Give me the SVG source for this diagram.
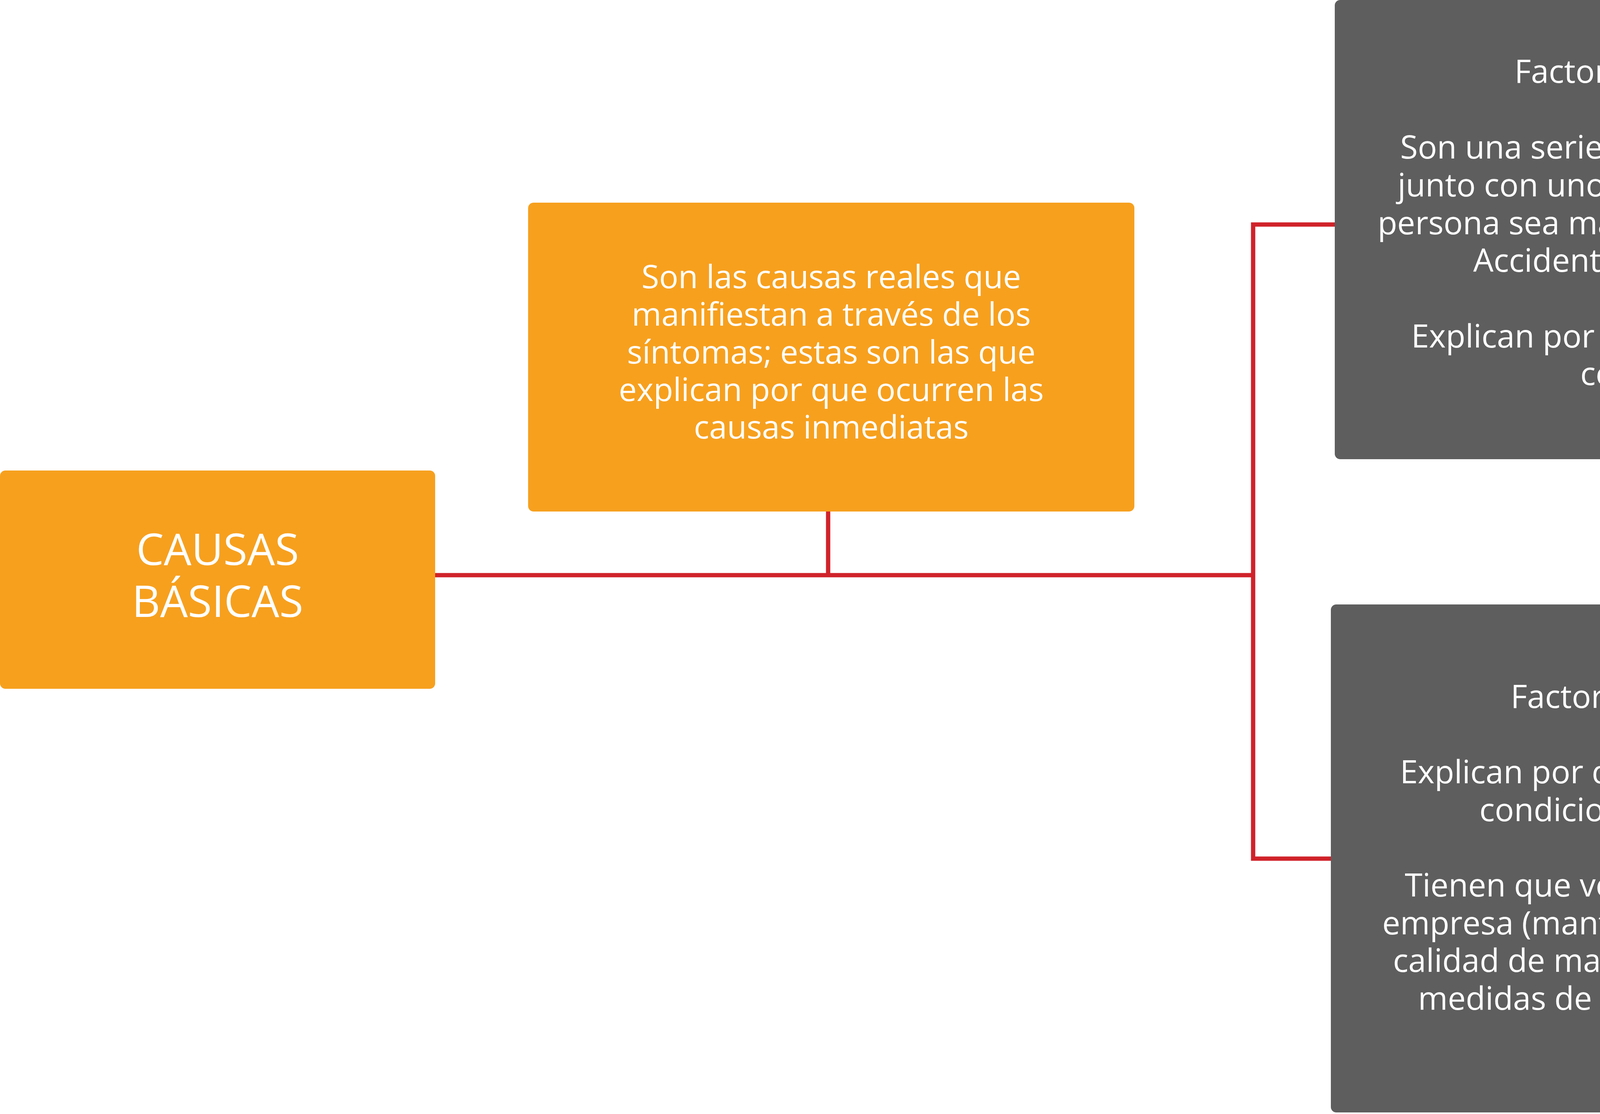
<svg xmlns="http://www.w3.org/2000/svg" width="5122" height="2853" viewBox="0 0 5122 2853">
<style>
.o{fill:#F7A01E}
.g{fill:#5E5E5E}
.t{font-family:"Open Sans","Liberation Sans",sans-serif;fill:#fff;text-anchor:middle;font-size:82px}
.c{stroke:#D0222A;stroke-width:11;fill:none}
</style>
<rect width="5122" height="2853" fill="#fff"/>
<g id="connectors">
<path class="c" d="M1114 1473H3208M2120 1310V1473M3417 575H3208V2199H3407"/>
</g>
<g id="causas">
<rect class="o" x="0" y="1205" width="1114" height="559" rx="14"/>
<text class="t" style="font-size:112px"><tspan x="557" y="1447">CAUSAS</tspan><tspan x="557" y="1580">BÁSICAS</tspan></text>
</g>
<g id="definicion">
<rect class="o" x="1352" y="519" width="1552" height="791" rx="14"/>
<text class="t"><tspan x="2128" y="738">Son las causas reales que</tspan><tspan x="2128" y="834">manifiestan a través de los</tspan><tspan x="2128" y="931">síntomas; estas son las que</tspan><tspan x="2128" y="1027">explican por que ocurren las</tspan><tspan x="2128" y="1123">causas inmediatas</tspan></text>
</g>
<g id="personales">
<rect class="g" x="3417" y="0" width="1705" height="1176" rx="14"/>
<text class="t"><tspan x="4270" y="212">Factores Personales:</tspan><tspan x="4270" y="406">Son una serie de características que</tspan><tspan x="4270" y="503">junto con unos hábitos hacen que la</tspan><tspan x="4270" y="600">persona sea mas o menos vulnerables.</tspan><tspan x="4270" y="696">Accidentes o enfermedad.</tspan><tspan x="4270" y="890">Explican por que la gente no actúa</tspan><tspan x="4270" y="986">como debe.</tspan></text>
</g>
<g id="trabajo">
<rect class="g" x="3407" y="1548" width="1703" height="1301" rx="14"/>
<text class="t"><tspan x="4257" y="1813">Factores del trabajo:</tspan><tspan x="4257" y="2006">Explican por que existen o se crean</tspan><tspan x="4257" y="2103">condiciones INSEGURAS.</tspan><tspan x="4257" y="2296">Tienen que ver con la gestión de la</tspan><tspan x="4257" y="2393">empresa (mantenimiento de equipos,</tspan><tspan x="4257" y="2489">calidad de materiales, evaluación de</tspan><tspan x="4257" y="2586">medidas de control, entre otros).</tspan></text>
</g>
</svg>
